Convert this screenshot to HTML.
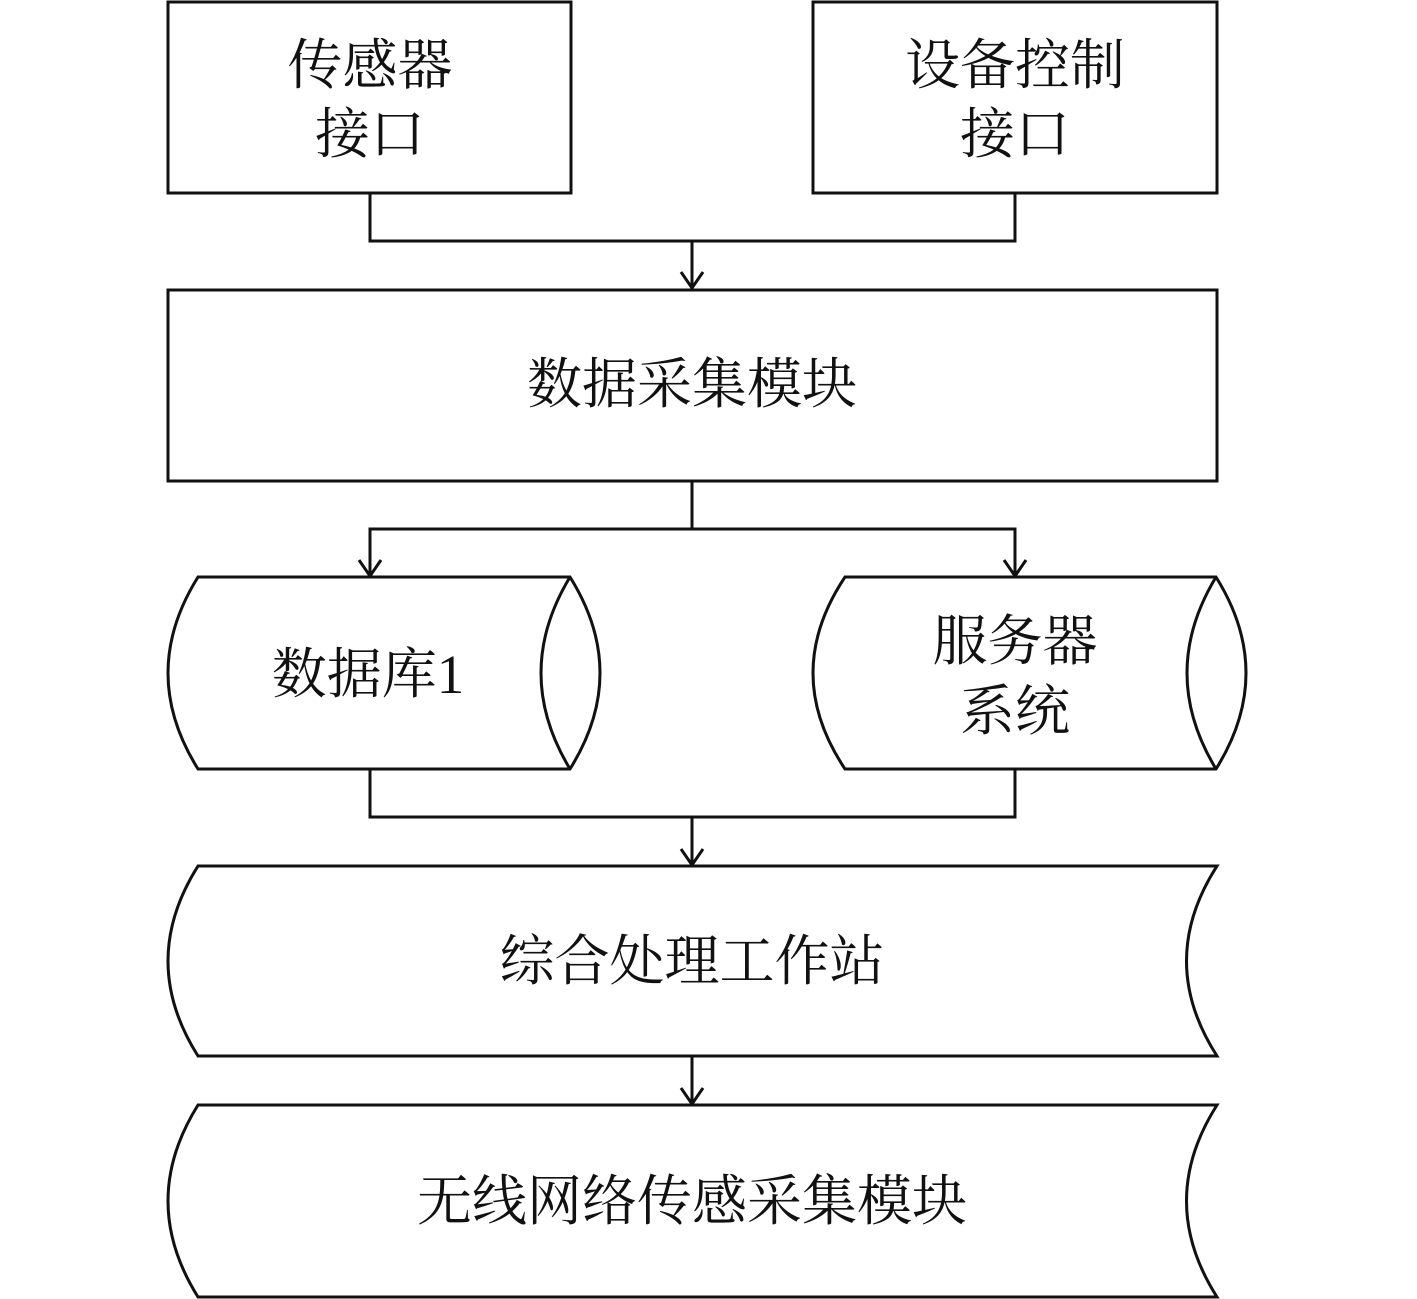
<!DOCTYPE html>
<html><head><meta charset="utf-8"><style>
html,body{margin:0;padding:0;background:#fff;}
svg{display:block}
text{font-family:"Liberation Serif","Noto Serif CJK SC",serif;font-size:55px;fill:#111;text-anchor:middle;}
</style></head><body>
<svg width="1417" height="1299" viewBox="0 0 1417 1299" xmlns="http://www.w3.org/2000/svg">
<g fill="none" stroke="#111" stroke-width="3">
<rect x="168" y="2" width="403" height="191"/>
<rect x="813" y="2" width="404" height="191"/>
<rect x="168" y="290" width="1049" height="191"/>
<!-- connectors -->
<polyline points="370,193 370,241 1015,241 1015,193"/>
<line x1="692" y1="241" x2="692" y2="289"/>
<polyline points="681,272 692,288 703,272"/>
<line x1="692" y1="481" x2="692" y2="529"/>
<polyline points="370,576 370,529 1015,529 1015,576"/>
<polyline points="359,560 370,576 381,560"/>
<polyline points="1004,560 1015,576 1026,560"/>
<polyline points="370,769 370,817 1015,817 1015,769"/>
<line x1="692" y1="817" x2="692" y2="865"/>
<polyline points="681,849 692,865 703,849"/>
<line x1="692" y1="1056" x2="692" y2="1104"/>
<polyline points="681,1088 692,1104 703,1088"/>
<!-- cylinder 1 -->
<path d="M198,577 L570,577 Q630,673 570,769 L198,769 Q138,673 198,577 Z"/>
<path d="M570,577 Q512,673 570,769"/>
<!-- cylinder 2 -->
<path d="M845,577 L1216,577 Q1276,673 1216,769 L845,769 Q781,673 845,577 Z"/>
<path d="M1216,577 Q1158,673 1216,769"/>
<!-- bottom shapes -->
<path d="M198,866 L1217,866 Q1156,961 1217,1056 L198,1056 Q138,961 198,866 Z"/>
<path d="M198,1105 L1217,1105 Q1156,1201 1217,1297 L198,1297 Q138,1201 198,1105 Z"/>
</g>
<text x="370" y="84">传感器</text>
<text x="370" y="153">接口</text>
<text x="1015" y="84">设备控制</text>
<text x="1015" y="153">接口</text>
<text x="692" y="403">数据采集模块</text>
<text x="368" y="693">数据库1</text>
<text x="1015" y="660">服务器</text>
<text x="1015" y="730">系统</text>
<text x="692" y="980">综合处理工作站</text>
<text x="692" y="1220">无线网络传感采集模块</text>
</svg>
</body></html>
